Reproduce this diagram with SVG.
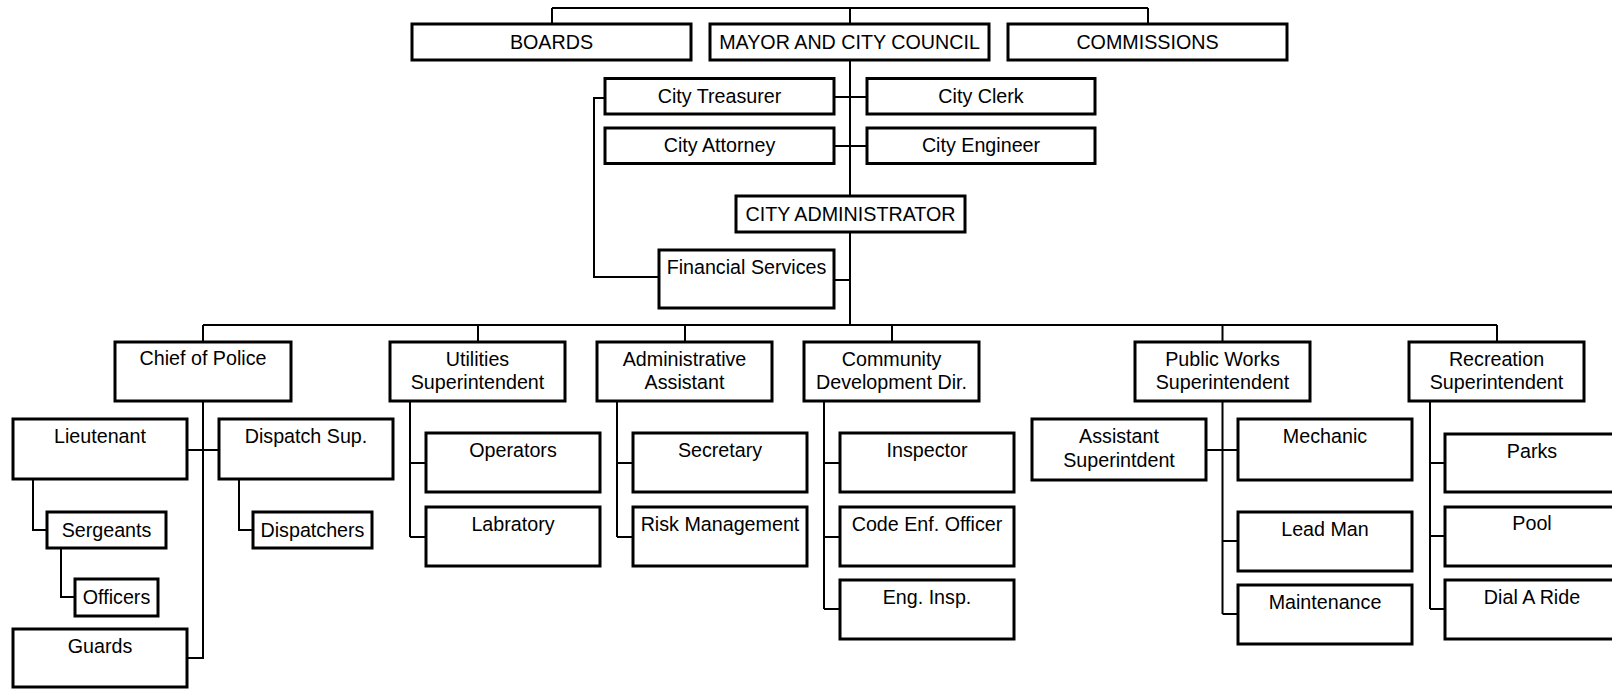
<svg xmlns="http://www.w3.org/2000/svg" width="1612" height="690" viewBox="0 0 1612 690">
<style>
.b{fill:#fff;stroke:#000;stroke-width:3}
.t{font-family:"Liberation Sans",Arial,sans-serif;font-size:19.7px;fill:#000;text-anchor:middle}
.c{fill:none;stroke:#000;stroke-width:2}
</style>
<rect width="1612" height="690" fill="#fff"/>
<g id="connectors" class="c">
<path d="M552 8H1148M552 8V24M850 8V24M1148 8V24"/>
<path d="M850 60V196M850 232V325"/>
<path d="M834 97H867M834 146H867"/>
<path d="M605 98H594V277H659"/>
<path d="M834 280H850"/>
<path d="M203 325H1497M203 325V342M478 325V342M685 325V342M892 325V342M1222.5 325V342M1497 325V342"/>
<path d="M203 401V658H187M187 450H219"/>
<path d="M33 479V530H47M61 548V597H75M239 479V530H253"/>
<path d="M410 401V537M410 463H426M410 537H426"/>
<path d="M617 401V537M617 463H633M617 537H633"/>
<path d="M824 401V609M824 463H840M824 537H840M824 609H840"/>
<path d="M1222.5 401V614M1206 450H1238M1222.5 541H1238M1222.5 614H1238"/>
<path d="M1430 401V609M1430 463H1445M1430 536H1445M1430 609H1445"/>
</g>
<g id="boards"><rect class="b" x="412" y="24" width="279" height="36"/><text class="t" x="551.5" y="49">BOARDS</text></g>
<g id="mayor"><rect class="b" x="710" y="24" width="279" height="36"/><text class="t" x="849.5" y="49">MAYOR AND CITY COUNCIL</text></g>
<g id="commissions"><rect class="b" x="1008" y="24" width="279" height="36"/><text class="t" x="1147.5" y="49">COMMISSIONS</text></g>
<g id="treasurer"><rect class="b" x="605" y="78.5" width="229" height="35.5"/><text class="t" x="719.5" y="103">City Treasurer</text></g>
<g id="clerk"><rect class="b" x="867" y="78.5" width="228" height="35.5"/><text class="t" x="981" y="103">City Clerk</text></g>
<g id="attorney"><rect class="b" x="605" y="128" width="229" height="35.5"/><text class="t" x="719.5" y="152">City Attorney</text></g>
<g id="engineer"><rect class="b" x="867" y="128" width="228" height="35.5"/><text class="t" x="981" y="152">City Engineer</text></g>
<g id="administrator"><rect class="b" x="736" y="196" width="229" height="36"/><text class="t" x="850.5" y="221">CITY ADMINISTRATOR</text></g>
<g id="financial"><rect class="b" x="659" y="250" width="175" height="58"/><text class="t" x="746.5" y="274">Financial Services</text></g>
<g id="police"><rect class="b" x="115" y="342" width="176" height="59"/><text class="t" x="203" y="365">Chief of Police</text></g>
<g id="utilities"><rect class="b" x="390" y="342" width="175" height="59"/><text class="t" x="477.5" y="366">Utilities</text><text class="t" x="477.5" y="389">Superintendent</text></g>
<g id="adminasst"><rect class="b" x="597" y="342" width="175" height="59"/><text class="t" x="684.5" y="366">Administrative</text><text class="t" x="684.5" y="389">Assistant</text></g>
<g id="community"><rect class="b" x="804" y="342" width="175" height="59"/><text class="t" x="891.5" y="366">Community</text><text class="t" x="891.5" y="389">Development Dir.</text></g>
<g id="publicworks"><rect class="b" x="1135" y="342" width="175" height="59"/><text class="t" x="1222.5" y="366">Public Works</text><text class="t" x="1222.5" y="389">Superintendent</text></g>
<g id="recreation"><rect class="b" x="1409" y="342" width="175" height="59"/><text class="t" x="1496.5" y="366">Recreation</text><text class="t" x="1496.5" y="389">Superintendent</text></g>
<g id="lieutenant"><rect class="b" x="13" y="419" width="174" height="60"/><text class="t" x="100" y="443">Lieutenant</text></g>
<g id="dispatchsup"><rect class="b" x="219" y="419" width="174" height="60"/><text class="t" x="306" y="443">Dispatch Sup.</text></g>
<g id="sergeants"><rect class="b" x="47" y="512" width="119" height="36"/><text class="t" x="106.5" y="537">Sergeants</text></g>
<g id="dispatchers"><rect class="b" x="253" y="512" width="119" height="36"/><text class="t" x="312.5" y="537">Dispatchers</text></g>
<g id="officers"><rect class="b" x="75" y="579" width="83" height="37"/><text class="t" x="116.5" y="604">Officers</text></g>
<g id="guards"><rect class="b" x="13" y="629" width="174" height="58"/><text class="t" x="100" y="653">Guards</text></g>
<g id="operators"><rect class="b" x="426" y="433" width="174" height="59"/><text class="t" x="513" y="457">Operators</text></g>
<g id="labratory"><rect class="b" x="426" y="507" width="174" height="59"/><text class="t" x="513" y="531">Labratory</text></g>
<g id="secretary"><rect class="b" x="633" y="433" width="174" height="59"/><text class="t" x="720" y="457">Secretary</text></g>
<g id="risk"><rect class="b" x="633" y="507" width="174" height="59"/><text class="t" x="720" y="531">Risk Management</text></g>
<g id="inspector"><rect class="b" x="840" y="433" width="174" height="59"/><text class="t" x="927" y="457">Inspector</text></g>
<g id="codeenf"><rect class="b" x="840" y="507" width="174" height="59"/><text class="t" x="927" y="531">Code Enf. Officer</text></g>
<g id="enginsp"><rect class="b" x="840" y="580" width="174" height="59"/><text class="t" x="927" y="604">Eng. Insp.</text></g>
<g id="asstsupt"><rect class="b" x="1032" y="419" width="174" height="61"/><text class="t" x="1119" y="443">Assistant</text><text class="t" x="1119" y="467">Superintdent</text></g>
<g id="mechanic"><rect class="b" x="1238" y="419" width="174" height="61"/><text class="t" x="1325" y="443">Mechanic</text></g>
<g id="leadman"><rect class="b" x="1238" y="512" width="174" height="59"/><text class="t" x="1325" y="536">Lead Man</text></g>
<g id="maintenance"><rect class="b" x="1238" y="585" width="174" height="59"/><text class="t" x="1325" y="609">Maintenance</text></g>
<g id="parks"><rect class="b" x="1445" y="434" width="174" height="58"/><text class="t" x="1532" y="458">Parks</text></g>
<g id="pool"><rect class="b" x="1445" y="507" width="174" height="59"/><text class="t" x="1532" y="530">Pool</text></g>
<g id="dialaride"><rect class="b" x="1445" y="580" width="174" height="59"/><text class="t" x="1532" y="604">Dial A Ride</text></g>
</svg>
